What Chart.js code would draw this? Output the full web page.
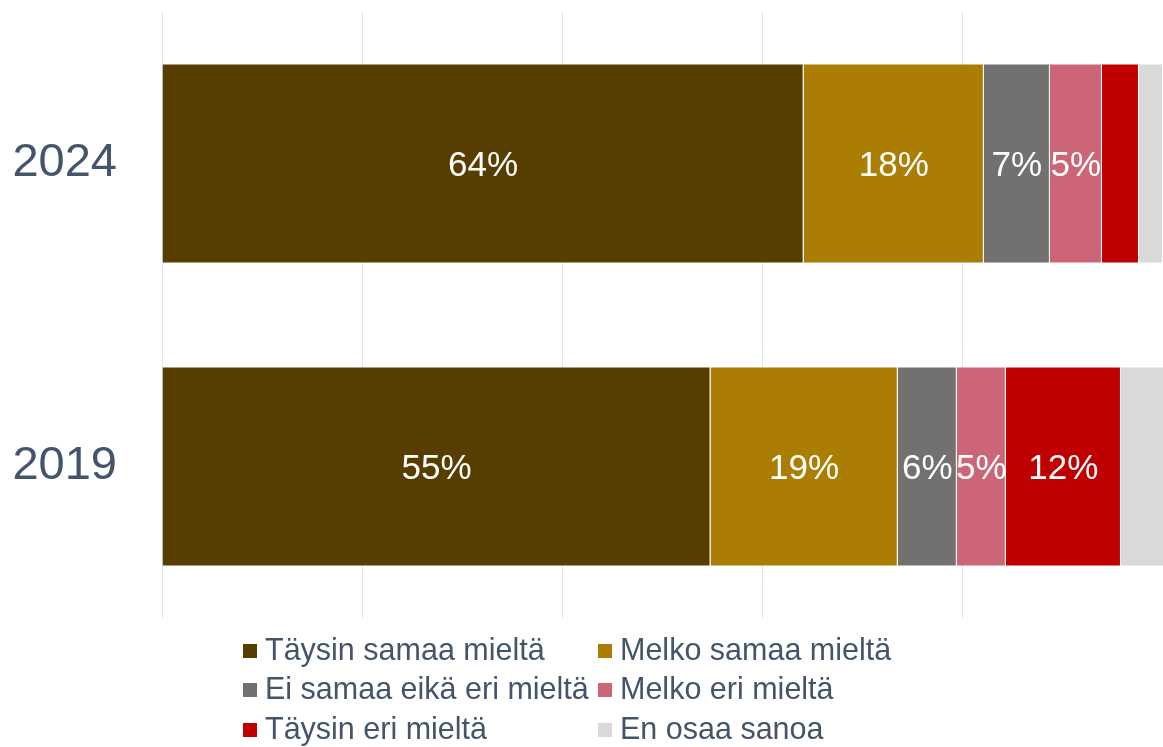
<!DOCTYPE html>
<html>
<head>
<meta charset="utf-8">
<script src="https://cdn.jsdelivr.net/npm/chart.js@4"></script>
<style>
  body { margin: 0; background: #fff; }
  #wrap { width: 1163px; height: 747px; }
</style>
</head>
<body>
<div id="wrap"><canvas id="myChart"></canvas></div>
<script>
const years = ['2024', '2019'];

const answers = [
  'Täysin samaa mieltä',
  'Melko samaa mieltä',
  'Ei samaa eikä eri mieltä',
  'Melko eri mieltä',
  'Täysin eri mieltä',
  'En osaa sanoa'
];

// shares per answer, [2024, 2019]
const taysinSamaa = [64.1, 54.8];
const melkoSamaa = [18.0, 18.7];
const eiSamaaEikaEri = [6.6, 5.9];
const melkoEri = [5.2, 4.9];
const taysinEri = [3.7, 11.5];
const enOsaa = [2.4, 4.3];

const xTicks = [0, 20, 40, 60, 80, 100];

const colors = ['#573d00', '#ab7d03', '#73716f', '#cc6677', '#c00000', '#d9d9d9'];
const series = [taysinSamaa, melkoSamaa, eiSamaaEikaEri, melkoEri, taysinEri, enOsaa];

const textColor = '#44546a';
const fontFamily = '"Liberation Sans", Arial, sans-serif';

const data = {
  labels: years,
  datasets: series.map((vals, i) => ({
    label: answers[i],
    data: vals,
    backgroundColor: colors[i],
    borderColor: 'rgba(255,255,255,0.35)',
    borderWidth: 1,
    barPercentage: 0.66,
    categoryPercentage: 1
  }))
};

// white % labels in the middle of each segment
const barLabels = {
  id: 'barLabels',
  afterDatasetsDraw(chart) {
    const ctx = chart.ctx;
    ctx.save();
    ctx.font = '35px ' + fontFamily;
    ctx.fillStyle = '#fff';
    ctx.textAlign = 'center';
    ctx.textBaseline = 'middle';
    chart.data.datasets.forEach((ds, i) => {
      const meta = chart.getDatasetMeta(i);
      meta.data.forEach((bar, j) => {
        const v = ds.data[j];
        if (v < 4.5) return;
        ctx.fillText(Math.round(v) + '%', (bar.x + bar.base) / 2, bar.y + 3);
      });
    });
    ctx.restore();
  }
};

// two column legend under the plot
const gridLegend = {
  id: 'gridLegend',
  afterDraw(chart) {
    const ctx = chart.ctx;
    const colX = [243, 598];
    const rowY = [651, 690, 730];
    ctx.save();
    ctx.font = '30.5px ' + fontFamily;
    ctx.textBaseline = 'middle';
    chart.data.datasets.forEach((ds, i) => {
      const x = colX[i % 2];
      const y = rowY[Math.floor(i / 2)];
      ctx.fillStyle = ds.backgroundColor;
      ctx.fillRect(x, y - 7, 14, 14);
      ctx.fillStyle = textColor;
      ctx.fillText(ds.label, x + 22, y + 1);
    });
    ctx.restore();
  }
};

const config = {
  type: 'bar',
  data: data,
  options: {
    indexAxis: 'y',
    responsive: true,
    maintainAspectRatio: false,
    animation: false,
    layout: {
      padding: { top: 12, bottom: 129, left: 0, right: 0 }
    },
    plugins: {
      legend: { display: false },
      tooltip: { enabled: false }
    },
    scales: {
      x: {
        stacked: true,
        min: xTicks[0],
        max: xTicks[xTicks.length - 1],
        afterBuildTicks(scale) {
          scale.ticks = xTicks.map(v => ({ value: v }));
        },
        afterFit(scale) { scale.height = 0; },
        ticks: { display: false },
        border: { display: false },
        grid: { color: '#e3e5ec', lineWidth: 1, drawTicks: false }
      },
      y: {
        stacked: true,
        afterFit(scale) {
          scale.width = 162;
          scale.paddingTop = 0;
          scale.paddingBottom = 0;
        },
        grid: { display: false, drawTicks: false },
        border: { display: false },
        ticks: {
          color: textColor,
          padding: 45,
          font: { size: 47, family: fontFamily }
        }
      }
    }
  },
  plugins: [barLabels, gridLegend]
};

const myChart = new Chart(document.getElementById('myChart'), config);
</script>
</body>
</html>
